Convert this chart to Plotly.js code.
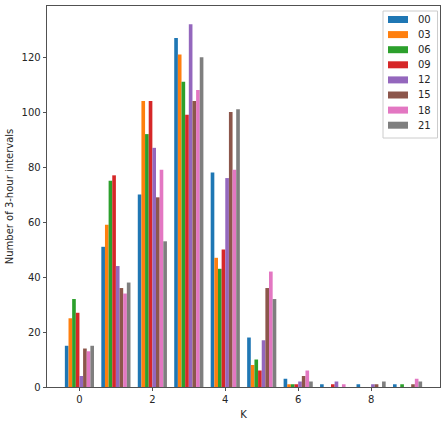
<!DOCTYPE html>
<html>
<head>
<meta charset="utf-8">
<script src="https://cdn.plot.ly/plotly-3.0.1.min.js"></script>
<style>
html,body{margin:0;padding:0;background:#fff;}
#chart{width:445px;height:425px;}
</style>
</head>
<body>
<div id="chart"></div>
<script>
// Data
const kValues = [0, 1, 2, 3, 4, 5, 6, 7, 8, 9];
const seriesNames = ["00", "03", "06", "09", "12", "15", "18", "21"];
const s00 = [15, 51, 70, 127, 78, 18, 3, 1, 1, 1];
const s03 = [25, 59, 104, 121, 47, 8, 1, 0, 0, 0];
const s06 = [32, 75, 92, 111, 43, 10, 1, 0, 0, 1];
const s09 = [27, 77, 104, 99, 50, 6, 1, 1, 0, 0];
const s12 = [4, 44, 87, 132, 76, 17, 2, 2, 1, 0];
const s15 = [14, 36, 69, 104, 100, 36, 4, 0, 1, 1];
const s18 = [13, 34, 79, 108, 79, 42, 6, 1, 0, 3];
const s21 = [15, 38, 53, 120, 101, 32, 2, 0, 2, 2];
const seriesValues = [s00, s03, s06, s09, s12, s15, s18, s21];
const xTicks = [0, 2, 4, 6, 8];
const yTicks = [0, 20, 40, 60, 80, 100, 120];

const colors = ["#1f77b4", "#ff7f0e", "#2ca02c", "#d62728", "#9467bd", "#8c564b", "#e377c2", "#7f7f7f"];

const traces = seriesNames.map((name, i) => ({
  type: "bar",
  x: kValues,
  y: seriesValues[i],
  name: name,
  marker: {color: colors[i], line: {width: 0}},
  showlegend: false,
  hoverinfo: "x+y+name"
}));

// plot area in pixels
const W = 445, H = 425;
const L = 47, R = 440, T = 6, B = 387;
const px2x = p => (p - L) / (R - L);
const py2y = p => (B - p) / (B - T);

const shapes = [];
const annotations = [];
// legend frame
shapes.push({type: "rect", xref: "paper", yref: "paper",
  x0: px2x(383), x1: px2x(437.5), y0: py2y(138), y1: py2y(11),
  line: {color: "#cccccc", width: 1}, fillcolor: "rgba(255,255,255,0.8)", layer: "above"});
seriesNames.forEach((name, i) => {
  const cy = 19.5 + i * 15.1;
  shapes.push({type: "rect", xref: "paper", yref: "paper",
    x0: px2x(388), x1: px2x(408), y0: py2y(cy + 3.5), y1: py2y(cy - 3.5),
    line: {width: 0}, fillcolor: colors[i], layer: "above"});
  annotations.push({xref: "paper", yref: "paper", x: px2x(416), y: py2y(cy),
    xanchor: "left", yanchor: "middle", text: name, showarrow: false,
    font: {family: "DejaVu Sans", size: 10, color: "#262626"}});
});

const layout = {
  width: W, height: H,
  margin: {l: L, r: W - R, t: T, b: H - B, pad: 0},
  paper_bgcolor: "#ffffff", plot_bgcolor: "#ffffff",
  font: {family: "DejaVu Sans", size: 10, color: "#262626"},
  barmode: "group", bargap: 0.2, bargroupgap: 0,
  showlegend: false,
  xaxis: {
    range: [-0.89, 9.89], tickvals: xTicks, ticktext: xTicks.map(String),
    ticks: "outside", ticklen: 3.5, tickwidth: 0.8, tickcolor: "#262626",
    showgrid: false, zeroline: false, showline: true, linecolor: "#262626", linewidth: 0.8,
    mirror: true,
    tickfont: {family: "DejaVu Sans", size: 10, color: "#262626"},
    title: {text: "K", font: {family: "DejaVu Sans", size: 10, color: "#262626"}, standoff: 6}
  },
  yaxis: {
    range: [0, 138.6], tickvals: yTicks, ticktext: yTicks.map(String),
    ticks: "outside", ticklen: 3.5, tickwidth: 0.8, tickcolor: "#262626",
    showgrid: false, zeroline: false, showline: true, linecolor: "#262626", linewidth: 0.8,
    mirror: true,
    tickfont: {family: "DejaVu Sans", size: 10, color: "#262626"},
    title: {text: "Number of 3-hour intervals", font: {family: "DejaVu Sans", size: 10, color: "#262626"}, standoff: 6}
  },
  shapes: shapes,
  annotations: annotations
};

Plotly.newPlot("chart", traces, layout, {displayModeBar: false, staticPlot: true});
</script>
</body>
</html>
